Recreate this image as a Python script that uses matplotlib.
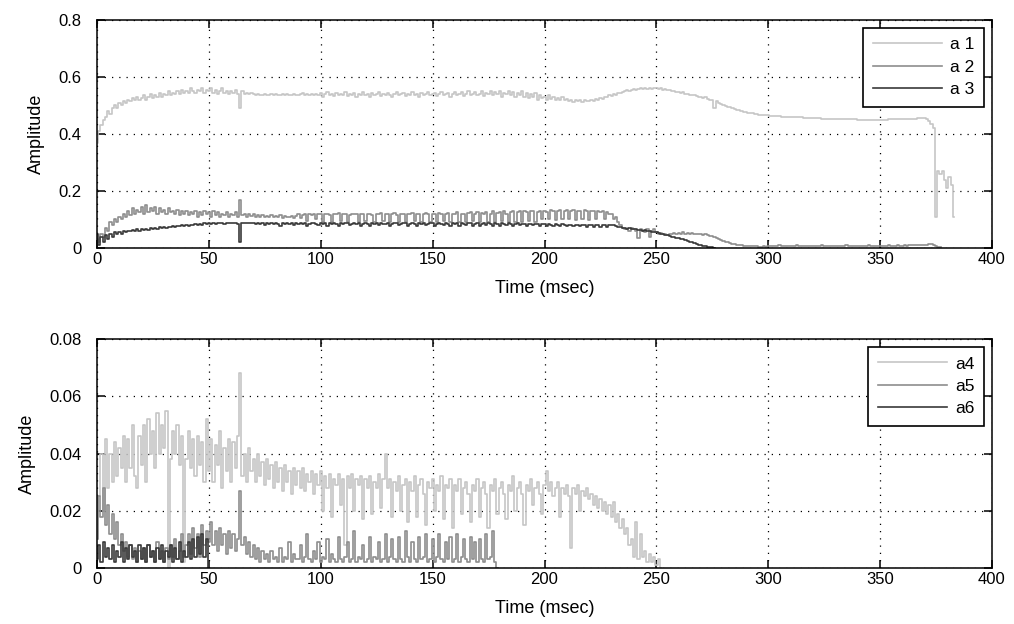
import numpy as np
import matplotlib
matplotlib.use("Agg")
import matplotlib.pyplot as plt

# Sampled amplitudes, one value per millisecond starting at t = 0
sample_ms = 1.0

a1 = [
    0.37, 0.41, 0.43, 0.45, 0.46, 0.48, 0.47, 0.49, 0.50, 0.49,
    0.51, 0.50, 0.515, 0.51, 0.52, 0.515, 0.525, 0.52, 0.53, 0.52,
    0.525, 0.535, 0.52, 0.53, 0.54, 0.525, 0.535, 0.53, 0.545, 0.53,
    0.54, 0.535, 0.55, 0.535, 0.545, 0.54, 0.55, 0.54, 0.555, 0.545,
    0.55, 0.545, 0.56, 0.55, 0.545, 0.555, 0.55, 0.56, 0.545, 0.555,
    0.55, 0.56, 0.545, 0.555, 0.54, 0.55, 0.56, 0.545, 0.55, 0.54,
    0.55, 0.545, 0.555, 0.54, 0.49, 0.55, 0.54, 0.545, 0.54, 0.545,
    0.54, 0.535, 0.54, 0.538, 0.535, 0.54, 0.537, 0.535, 0.54, 0.536,
    0.54, 0.535, 0.538, 0.54, 0.536, 0.54, 0.537, 0.535, 0.54, 0.538,
    0.535, 0.54, 0.545, 0.535, 0.54, 0.537, 0.542, 0.535, 0.54, 0.536,
    0.545, 0.53, 0.54, 0.548, 0.535, 0.54, 0.532, 0.545, 0.538, 0.54,
    0.535, 0.548, 0.532, 0.54, 0.538, 0.545, 0.53, 0.54, 0.537, 0.547,
    0.535, 0.54, 0.53, 0.545, 0.538, 0.54, 0.548, 0.533, 0.54, 0.536,
    0.545, 0.538, 0.53, 0.54, 0.548, 0.535, 0.54, 0.545, 0.532, 0.54,
    0.538, 0.546, 0.535, 0.54, 0.53, 0.545, 0.538, 0.54, 0.548, 0.535,
    0.54, 0.545, 0.532, 0.54, 0.548, 0.536, 0.54, 0.545, 0.53, 0.54,
    0.548, 0.535, 0.54, 0.546, 0.532, 0.54, 0.55, 0.535, 0.542, 0.548,
    0.535, 0.54, 0.55, 0.532, 0.545, 0.54, 0.552, 0.535, 0.548, 0.54,
    0.55, 0.53, 0.545, 0.54, 0.55, 0.535, 0.548, 0.53, 0.545, 0.538,
    0.55, 0.53, 0.545, 0.525, 0.54, 0.53, 0.545, 0.52, 0.535, 0.525,
    0.53, 0.52, 0.535, 0.522, 0.53, 0.518, 0.525, 0.52, 0.53, 0.518,
    0.522, 0.515, 0.52, 0.512, 0.518, 0.515, 0.52, 0.513, 0.518, 0.516,
    0.515, 0.52, 0.517, 0.522, 0.52, 0.525, 0.523, 0.53, 0.528, 0.535,
    0.533, 0.54, 0.538, 0.545, 0.543, 0.548, 0.55, 0.553, 0.552, 0.555,
    0.557, 0.555, 0.558, 0.56, 0.557, 0.56, 0.558, 0.561, 0.559, 0.56,
    0.56, 0.558, 0.56, 0.556, 0.557, 0.553, 0.555, 0.55, 0.552, 0.548,
    0.548, 0.545, 0.546, 0.542, 0.54, 0.538, 0.536, 0.535, 0.532, 0.53,
    0.53, 0.527, 0.528, 0.522, 0.52, 0.518, 0.49, 0.515, 0.51, 0.505,
    0.5, 0.498, 0.495, 0.493, 0.49, 0.488, 0.485, 0.483, 0.48, 0.478,
    0.476, 0.475, 0.473, 0.472, 0.47, 0.469, 0.468, 0.467, 0.466, 0.465,
    0.465, 0.464, 0.463, 0.463, 0.462, 0.462, 0.461, 0.461, 0.46, 0.46,
    0.46, 0.459, 0.459, 0.458, 0.458, 0.458, 0.457, 0.457, 0.456, 0.456,
    0.456, 0.455, 0.455, 0.455, 0.454, 0.454, 0.454, 0.453, 0.453, 0.453,
    0.453, 0.452, 0.452, 0.452, 0.452, 0.451, 0.451, 0.451, 0.451, 0.451,
    0.45, 0.45, 0.45, 0.45, 0.45, 0.45, 0.45, 0.45, 0.45, 0.45,
    0.45, 0.45, 0.45, 0.45, 0.451, 0.451, 0.451, 0.452, 0.452, 0.452,
    0.452, 0.453, 0.453, 0.453, 0.454, 0.454, 0.454, 0.455, 0.455, 0.455,
    0.455, 0.452, 0.445, 0.435, 0.42, 0.11, 0.27, 0.26, 0.27, 0.24,
    0.21, 0.25, 0.22, 0.11,
]

a2 = [
    0.03, 0.02, 0.05, 0.04, 0.07, 0.06, 0.09, 0.08, 0.1, 0.09,
    0.11, 0.1, 0.12, 0.11, 0.13, 0.115, 0.14, 0.12, 0.135, 0.125,
    0.145, 0.12, 0.15, 0.125, 0.14, 0.13, 0.145, 0.12, 0.14, 0.125,
    0.135, 0.12, 0.14, 0.125, 0.13, 0.12, 0.135, 0.115, 0.13, 0.12,
    0.13, 0.115, 0.125, 0.12, 0.13, 0.11, 0.125, 0.115, 0.13, 0.12,
    0.125, 0.11, 0.13, 0.115, 0.125, 0.11, 0.12, 0.115, 0.125, 0.11,
    0.12, 0.115, 0.125, 0.11, 0.17, 0.115, 0.12, 0.11, 0.118, 0.112,
    0.118, 0.11, 0.115, 0.108, 0.114, 0.11, 0.112, 0.108, 0.114, 0.11,
    0.112, 0.108, 0.115, 0.105, 0.112, 0.11, 0.108, 0.113, 0.105, 0.112,
    0.118, 0.105, 0.115, 0.12, 0.095, 0.118, 0.115, 0.12, 0.1, 0.118,
    0.12, 0.092, 0.118, 0.12, 0.115, 0.09, 0.12, 0.118, 0.122, 0.095,
    0.118, 0.12, 0.09, 0.115, 0.12, 0.118, 0.12, 0.092, 0.118, 0.12,
    0.095, 0.118, 0.12, 0.115, 0.09, 0.118, 0.12, 0.122, 0.095, 0.118,
    0.12, 0.09, 0.118, 0.122, 0.115, 0.092, 0.12, 0.118, 0.09, 0.12,
    0.118, 0.122, 0.095, 0.118, 0.12, 0.09, 0.118, 0.122, 0.12, 0.092,
    0.12, 0.118, 0.09, 0.122, 0.118, 0.095, 0.12, 0.122, 0.09, 0.118,
    0.12, 0.125, 0.092, 0.12, 0.118, 0.09, 0.122, 0.125, 0.095, 0.12,
    0.125, 0.09, 0.122, 0.12, 0.125, 0.092, 0.12, 0.128, 0.09, 0.122,
    0.125, 0.095, 0.128, 0.12, 0.09, 0.125, 0.13, 0.092, 0.125, 0.128,
    0.09, 0.13, 0.125, 0.095, 0.128, 0.13, 0.09, 0.125, 0.13, 0.1,
    0.13, 0.125, 0.1, 0.132, 0.128, 0.098, 0.13, 0.132, 0.1, 0.128,
    0.132, 0.1, 0.13, 0.133, 0.098, 0.13, 0.128, 0.1, 0.132, 0.13,
    0.098, 0.13, 0.128, 0.1, 0.13, 0.125, 0.128, 0.1, 0.125, 0.12,
    0.118, 0.1, 0.11, 0.09, 0.08, 0.07, 0.065, 0.068, 0.06, 0.07,
    0.065, 0.06, 0.035, 0.065, 0.06, 0.055, 0.065, 0.04, 0.06, 0.065,
    0.055, 0.05, 0.052, 0.048, 0.05, 0.045, 0.05, 0.048, 0.052, 0.05,
    0.052, 0.05, 0.055, 0.05, 0.053, 0.048, 0.052, 0.05, 0.05, 0.048,
    0.05, 0.047, 0.048, 0.045, 0.043, 0.042, 0.04, 0.035, 0.032, 0.028,
    0.025, 0.022, 0.02, 0.018, 0.015, 0.013, 0.012, 0.01, 0.009, 0.008,
    0.008, 0.007, 0.007, 0.006, 0.006, 0.006, 0.005, 0.005, 0.006, 0.005,
    0.007, 0.006, 0.008, 0.006, 0.007, 0.009, 0.006, 0.007, 0.006, 0.008,
    0.007, 0.006, 0.007, 0.009, 0.006, 0.007, 0.006, 0.008, 0.007, 0.006,
    0.008, 0.007, 0.006, 0.007, 0.009, 0.006, 0.007, 0.008, 0.006, 0.007,
    0.007, 0.006, 0.008, 0.007, 0.006, 0.009, 0.007, 0.006, 0.008, 0.007,
    0.006, 0.007, 0.008, 0.006, 0.007, 0.009, 0.007, 0.006, 0.008, 0.007,
    0.007, 0.008, 0.006, 0.007, 0.009, 0.007, 0.008, 0.007, 0.009, 0.008,
    0.008, 0.009, 0.008, 0.01, 0.009, 0.01, 0.011, 0.01, 0.012, 0.011,
    0.01, 0.012, 0.015, 0.014, 0.01, 0.006, 0.003, 0.002,
]

a3 = [
    0.05, 0.01, 0.04, 0.02, 0.045, 0.03, 0.05, 0.04, 0.055, 0.05,
    0.055, 0.05, 0.06, 0.055, 0.06, 0.058, 0.062, 0.06, 0.065, 0.06,
    0.065, 0.062, 0.068, 0.064, 0.07, 0.066, 0.07, 0.068, 0.072, 0.07,
    0.074, 0.07, 0.075, 0.072, 0.078, 0.074, 0.078, 0.076, 0.08, 0.077,
    0.08, 0.078, 0.082, 0.08, 0.083, 0.081, 0.084, 0.082, 0.086, 0.083,
    0.086, 0.084, 0.087, 0.085, 0.088, 0.086, 0.087, 0.085, 0.088, 0.086,
    0.087, 0.086, 0.088, 0.085, 0.02, 0.087, 0.086, 0.088, 0.086, 0.087,
    0.086, 0.084, 0.087, 0.085, 0.086, 0.08, 0.087, 0.085, 0.086, 0.084,
    0.087, 0.085, 0.078, 0.086, 0.085, 0.087, 0.084, 0.086, 0.079, 0.086,
    0.085, 0.087, 0.084, 0.086, 0.078, 0.085, 0.087, 0.086, 0.084, 0.079,
    0.086, 0.085, 0.087, 0.078, 0.086, 0.085, 0.087, 0.084, 0.078, 0.086,
    0.085, 0.087, 0.086, 0.079, 0.085, 0.087, 0.084, 0.086, 0.078, 0.085,
    0.087, 0.085, 0.078, 0.086, 0.085, 0.087, 0.079, 0.086, 0.085, 0.084,
    0.086, 0.078, 0.085, 0.087, 0.086, 0.079, 0.085, 0.086, 0.087, 0.078,
    0.085, 0.086, 0.084, 0.078, 0.086, 0.085, 0.087, 0.079, 0.085, 0.086,
    0.087, 0.078, 0.085, 0.086, 0.084, 0.079, 0.086, 0.085, 0.078, 0.086,
    0.085, 0.087, 0.078, 0.086, 0.085, 0.079, 0.086, 0.087, 0.078, 0.085,
    0.086, 0.078, 0.085, 0.087, 0.079, 0.086, 0.085, 0.078, 0.086, 0.085,
    0.078, 0.086, 0.085, 0.079, 0.086, 0.084, 0.078, 0.085, 0.086, 0.079,
    0.085, 0.084, 0.078, 0.085, 0.083, 0.079, 0.084, 0.083, 0.078, 0.084,
    0.083, 0.078, 0.084, 0.082, 0.077, 0.083, 0.082, 0.076, 0.083, 0.082,
    0.077, 0.082, 0.081, 0.076, 0.082, 0.081, 0.076, 0.081, 0.08, 0.075,
    0.081, 0.08, 0.075, 0.08, 0.079, 0.074, 0.08, 0.079, 0.074, 0.079,
    0.082, 0.08, 0.078, 0.075, 0.072, 0.07, 0.07, 0.068, 0.07, 0.067,
    0.065, 0.066, 0.063, 0.064, 0.06, 0.062, 0.058, 0.06, 0.056, 0.057,
    0.055, 0.052, 0.05, 0.048, 0.047, 0.045, 0.042, 0.04, 0.038, 0.036,
    0.034, 0.032, 0.03, 0.027, 0.025, 0.022, 0.02, 0.018, 0.015, 0.012,
    0.01, 0.008, 0.006, 0.004, 0.003, 0.002, 0.001,
]

a4 = [
    0.01, 0.025, 0.04, 0.02, 0.045, 0.028, 0.04, 0.03, 0.044, 0.032,
    0.042, 0.035, 0.046, 0.03, 0.045, 0.035, 0.05, 0.032, 0.028, 0.046,
    0.036, 0.05, 0.03, 0.052, 0.04, 0.048, 0.035, 0.054, 0.04, 0.05,
    0.042, 0.055, 0.0, 0.038, 0.048, 0.04, 0.05, 0.036, 0.046, 0.002,
    0.038, 0.048, 0.035, 0.045, 0.032, 0.046, 0.036, 0.044, 0.03, 0.052,
    0.034, 0.045, 0.03, 0.043, 0.036, 0.048, 0.028, 0.042, 0.034, 0.045,
    0.03, 0.044, 0.035, 0.046, 0.068, 0.032, 0.04, 0.03, 0.042, 0.034,
    0.038, 0.03, 0.04, 0.032, 0.037, 0.029, 0.038, 0.031, 0.036, 0.028,
    0.037, 0.03, 0.035, 0.027, 0.036, 0.03, 0.034, 0.026, 0.035, 0.029,
    0.034, 0.028, 0.035, 0.027, 0.033, 0.03, 0.034, 0.026, 0.033, 0.029,
    0.034, 0.02, 0.032, 0.028, 0.033, 0.018, 0.031, 0.029, 0.033, 0.022,
    0.031, 0.008, 0.032, 0.028, 0.033, 0.02, 0.031, 0.029, 0.032, 0.017,
    0.031, 0.028, 0.032, 0.019, 0.03, 0.028, 0.033, 0.021, 0.031, 0.04,
    0.028, 0.031, 0.018, 0.03, 0.027, 0.032, 0.02, 0.029, 0.031, 0.016,
    0.03, 0.027, 0.032, 0.018, 0.029, 0.031, 0.026, 0.015, 0.03, 0.028,
    0.031, 0.02, 0.029, 0.027, 0.032, 0.017, 0.029, 0.028, 0.031, 0.014,
    0.029, 0.027, 0.031, 0.019, 0.028, 0.03, 0.026, 0.016, 0.029, 0.027,
    0.031, 0.018, 0.028, 0.03, 0.026, 0.014, 0.029, 0.027, 0.031, 0.019,
    0.028, 0.03, 0.026, 0.017, 0.029, 0.027, 0.032, 0.02, 0.028, 0.03,
    0.026, 0.015, 0.029, 0.027, 0.031, 0.022, 0.028, 0.03, 0.026, 0.019,
    0.029, 0.034, 0.027, 0.03, 0.025, 0.028, 0.03, 0.018, 0.028, 0.026,
    0.029, 0.025, 0.007, 0.028, 0.026, 0.029, 0.02, 0.027, 0.025, 0.028,
    0.024, 0.026, 0.022, 0.025, 0.021, 0.024, 0.02, 0.023, 0.019, 0.022,
    0.018, 0.023, 0.016, 0.019, 0.014, 0.017, 0.012, 0.014, 0.008, 0.01,
    0.004, 0.016, 0.003, 0.012, 0.004, 0.006, 0.002, 0.005, 0.002, 0.004,
    0.001, 0.003, 0.0,
]

a5 = [
    0.01, 0.025, 0.018, 0.028, 0.015, 0.022, 0.012, 0.019, 0.01, 0.016,
    0.008, 0.012, 0.006, 0.009, 0.004, 0.008, 0.003, 0.007, 0.002, 0.006,
    0.003, 0.007, 0.002, 0.008, 0.004, 0.006, 0.002, 0.009, 0.003, 0.006,
    0.002, 0.007, 0.003, 0.008, 0.004, 0.01, 0.003, 0.006, 0.012, 0.004,
    0.008, 0.012, 0.005, 0.014, 0.007, 0.012, 0.004, 0.015, 0.008, 0.013,
    0.009, 0.016, 0.008, 0.013, 0.006, 0.014, 0.008, 0.012, 0.005, 0.013,
    0.007, 0.012, 0.006, 0.01, 0.027, 0.008, 0.011, 0.005, 0.009, 0.004,
    0.008, 0.003, 0.007, 0.002, 0.006, 0.003, 0.005, 0.002, 0.006, 0.003,
    0.004, 0.002, 0.007, 0.002, 0.004, 0.003, 0.009, 0.002, 0.005, 0.003,
    0.003, 0.008, 0.002, 0.004, 0.012, 0.003, 0.002, 0.006, 0.003, 0.009,
    0.002, 0.004, 0.003, 0.01, 0.002, 0.005, 0.003, 0.002, 0.011, 0.003,
    0.002, 0.004, 0.009, 0.002, 0.003, 0.013, 0.002, 0.004, 0.003, 0.008,
    0.002, 0.003, 0.011, 0.002, 0.004, 0.003, 0.009, 0.002, 0.003, 0.012,
    0.002, 0.004, 0.01, 0.003, 0.002, 0.011, 0.003, 0.002, 0.013, 0.004,
    0.002, 0.009, 0.003, 0.002, 0.011, 0.003, 0.004, 0.012, 0.002, 0.003,
    0.01, 0.002, 0.004, 0.012, 0.003, 0.002, 0.009, 0.003, 0.011, 0.002,
    0.003, 0.012, 0.002, 0.004, 0.01, 0.003, 0.002, 0.011, 0.003, 0.009,
    0.002, 0.01, 0.003, 0.002, 0.012, 0.003, 0.004, 0.013, 0.002, 0.0,
]

a6 = [
    0.003, 0.008, 0.002, 0.009, 0.004, 0.007, 0.003, 0.008, 0.002, 0.006,
    0.004, 0.009, 0.002, 0.007, 0.003, 0.008, 0.004, 0.006, 0.002, 0.008,
    0.003, 0.007, 0.002, 0.008, 0.004, 0.006, 0.002, 0.007, 0.003, 0.008,
    0.002, 0.006, 0.004, 0.008, 0.002, 0.007, 0.003, 0.009, 0.002, 0.006,
    0.004, 0.009, 0.003, 0.01, 0.004, 0.011, 0.005, 0.012, 0.004, 0.01,
    0.0,
]

top_labels = ["a 1", "a 2", "a 3"]
bottom_labels = ["a4", "a5", "a6"]
x_ticks = [0, 50, 100, 150, 200, 250, 300, 350, 400]
top_yticks = [0, 0.2, 0.4, 0.6, 0.8]
top_yticklabels = ["0", "0.2", "0.4", "0.6", "0.8"]
bottom_yticks = [0, 0.02, 0.04, 0.06, 0.08]
bottom_yticklabels = ["0", "0.02", "0.04", "0.06", "0.08"]

shades = ["#c6c6c6", "#8e8e8e", "#3a3a3a"]

FONT = ["Liberation Sans Narrow", "Liberation Sans", "DejaVu Sans"]
plt.rcParams["font.family"] = FONT


def times(series):
    return np.arange(len(series)) * sample_ms


def style_axes(ax, yticks, yticklabels, ylim):
    ax.set_xlim(0, 400)
    ax.set_ylim(*ylim)
    ax.set_xticks(x_ticks)
    ax.set_xticklabels([str(v) for v in x_ticks])
    ax.set_yticks(yticks)
    ax.set_yticklabels(yticklabels)
    ax.tick_params(direction="in", length=5.5, width=1.1, top=True, right=True,
                   labelsize=12, colors="black")
    ax.tick_params(axis="y", pad=11)
    ax.tick_params(axis="x", pad=3)
    ax.grid(True, color="black", linestyle=(0, (1, 4.8)), linewidth=0.9)
    for sp in ax.spines.values():
        sp.set_linewidth(1.1)
        sp.set_color("black")
    ax.set_xlabel("Time (msec)", fontsize=13, labelpad=9)
    ax.set_ylabel("Amplitude", fontsize=13, labelpad=10)


fig = plt.figure(figsize=(10.14, 6.24), dpi=100)
ax1 = fig.add_axes([0.0957, 0.6026, 0.8826, 0.3654])
ax2 = fig.add_axes([0.0957, 0.0897, 0.8826, 0.3670])

for series, lab, col in zip([a1, a2, a3], top_labels, shades):
    ax1.plot(times(series), series, color=col, linewidth=1.2, label=lab,
             drawstyle="steps-mid")
style_axes(ax1, top_yticks, top_yticklabels, (0, 0.8))

for series, lab, col in zip([a4, a5, a6], bottom_labels, shades):
    ax2.plot(times(series), series, color=col, linewidth=1.2, label=lab,
             drawstyle="steps-mid")
style_axes(ax2, bottom_yticks, bottom_yticklabels, (0, 0.08))

for ax in (ax1, ax2):
    leg = ax.legend(loc="upper right", fontsize=12.5, handlelength=4.0,
                    handletextpad=0.45, labelspacing=0.42, borderaxespad=0.45,
                    fancybox=False, framealpha=1.0, edgecolor="black",
                    borderpad=0.55)
    leg.get_frame().set_linewidth(1.2)

fig.savefig("out.png", dpi=100, facecolor="white")
